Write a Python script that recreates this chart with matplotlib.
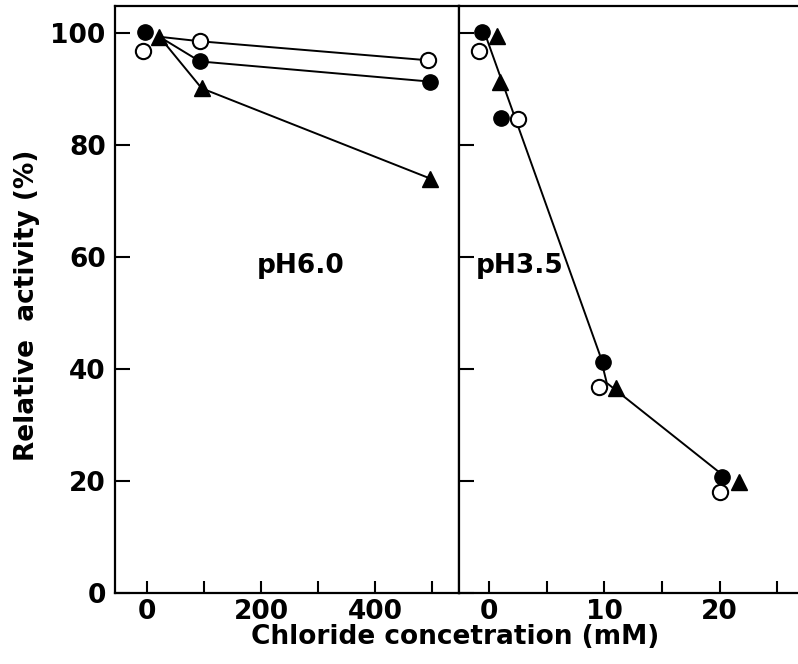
import matplotlib
matplotlib.use('Agg')
import matplotlib.pyplot as plt
from matplotlib.ticker import MultipleLocator

# pH 6.0 panel (x in mM)
ph6_filled_x = [-3, 93, 496]
ph6_filled_y = [100.2, 94.9, 91.3]
ph6_open_x = [-7, 93, 493]
ph6_open_y = [96.7, 98.5, 95.1]
ph6_tri_x = [22, 96, 496]
ph6_tri_y = [99.3, 90.1, 74.0]

# pH 3.5 panel (x in mM)
ph35_filled_x = [-0.6, 1.0, 9.9, 20.2]
ph35_filled_y = [100.2, 84.8, 41.2, 20.8]
ph35_open_x = [-0.9, 2.5, 9.5, 20.0]
ph35_open_y = [96.7, 84.6, 36.7, 18.1]
ph35_tri_x = [0.7, 0.9, 11.0, 21.7]
ph35_tri_y = [99.4, 91.3, 36.6, 19.9]
# hand drawn curve through the pH 3.5 points
ph35_line_x = [-0.4, 9.6, 10.2, 20.0]
ph35_line_y = [100.0, 42.5, 37.5, 21.5]

yticks = [0, 20, 40, 60, 80, 100]

plt.rcParams['font.family'] = 'DejaVu Sans'
plt.rcParams['font.weight'] = 'bold'

fig = plt.figure(figsize=(7.98, 6.64), dpi=100)
ax1 = fig.add_axes([0.1447, 0.1069, 0.4308, 0.8841])
ax2 = fig.add_axes([0.5756, 0.1069, 0.4244, 0.8841])

lw = 1.4
ms = 11
mk = dict(color='black', linestyle='none', zorder=3)

# left panel: every line starts from the first triangle point
x0, y0 = ph6_tri_x[0], ph6_tri_y[0]
for xs, ys in [(ph6_filled_x, ph6_filled_y), (ph6_open_x, ph6_open_y),
               (ph6_tri_x, ph6_tri_y)]:
    ax1.plot([x0] + xs[1:], [y0] + ys[1:], color='black', lw=lw, zorder=2)
ax1.plot(ph6_filled_x, ph6_filled_y, marker='o', ms=ms, mfc='black', **mk)
ax1.plot(ph6_open_x, ph6_open_y, marker='o', ms=ms, mfc='white', mew=1.5, **mk)
ax1.plot(ph6_tri_x, ph6_tri_y, marker='^', ms=ms + 1, mfc='black', **mk)

ax2.plot(ph35_line_x, ph35_line_y, color='black', lw=lw, zorder=2)
ax2.plot(ph35_filled_x, ph35_filled_y, marker='o', ms=ms, mfc='black', **mk)
ax2.plot(ph35_open_x, ph35_open_y, marker='o', ms=ms, mfc='white', mew=1.5, **mk)
ax2.plot(ph35_tri_x, ph35_tri_y, marker='^', ms=ms + 1, mfc='black', **mk)

ax1.set_xlim(-55, 547)
ax2.set_xlim(-2.6, 26.8)
for ax in (ax1, ax2):
    ax.set_ylim(0, 104.8)
    ax.set_yticks(yticks)
    for s in ax.spines.values():
        s.set_linewidth(1.6)
    ax.tick_params(direction='in', length=9, width=1.5, labelsize=19, pad=7)
    ax.tick_params(which='minor', direction='in', length=9, width=1.5)
    ax.tick_params(axis='y', length=11)
    ax.tick_params(axis='x', pad=4)

ax1.xaxis.set_major_locator(MultipleLocator(200))
ax1.xaxis.set_minor_locator(MultipleLocator(100))
ax2.xaxis.set_major_locator(MultipleLocator(10))
ax2.xaxis.set_minor_locator(MultipleLocator(5))
ax2.tick_params(axis='y', labelleft=False)
ax2.spines['right'].set_visible(False)

ax1.text(270, 58.3, 'pH6.0', fontsize=19, fontweight='bold', ha='center', va='center')
ax2.text(2.6, 58.3, 'pH3.5', fontsize=19, fontweight='bold', ha='center', va='center')

fig.text(0.57, 0.040, 'Chloride concetration (mM)', fontsize=19, fontweight='bold',
         ha='center', va='center')
fig.text(0.034, 0.54, 'Relative  activity (%)', fontsize=19, fontweight='bold',
         ha='center', va='center', rotation=90)

fig.savefig('out.png', dpi=100)
